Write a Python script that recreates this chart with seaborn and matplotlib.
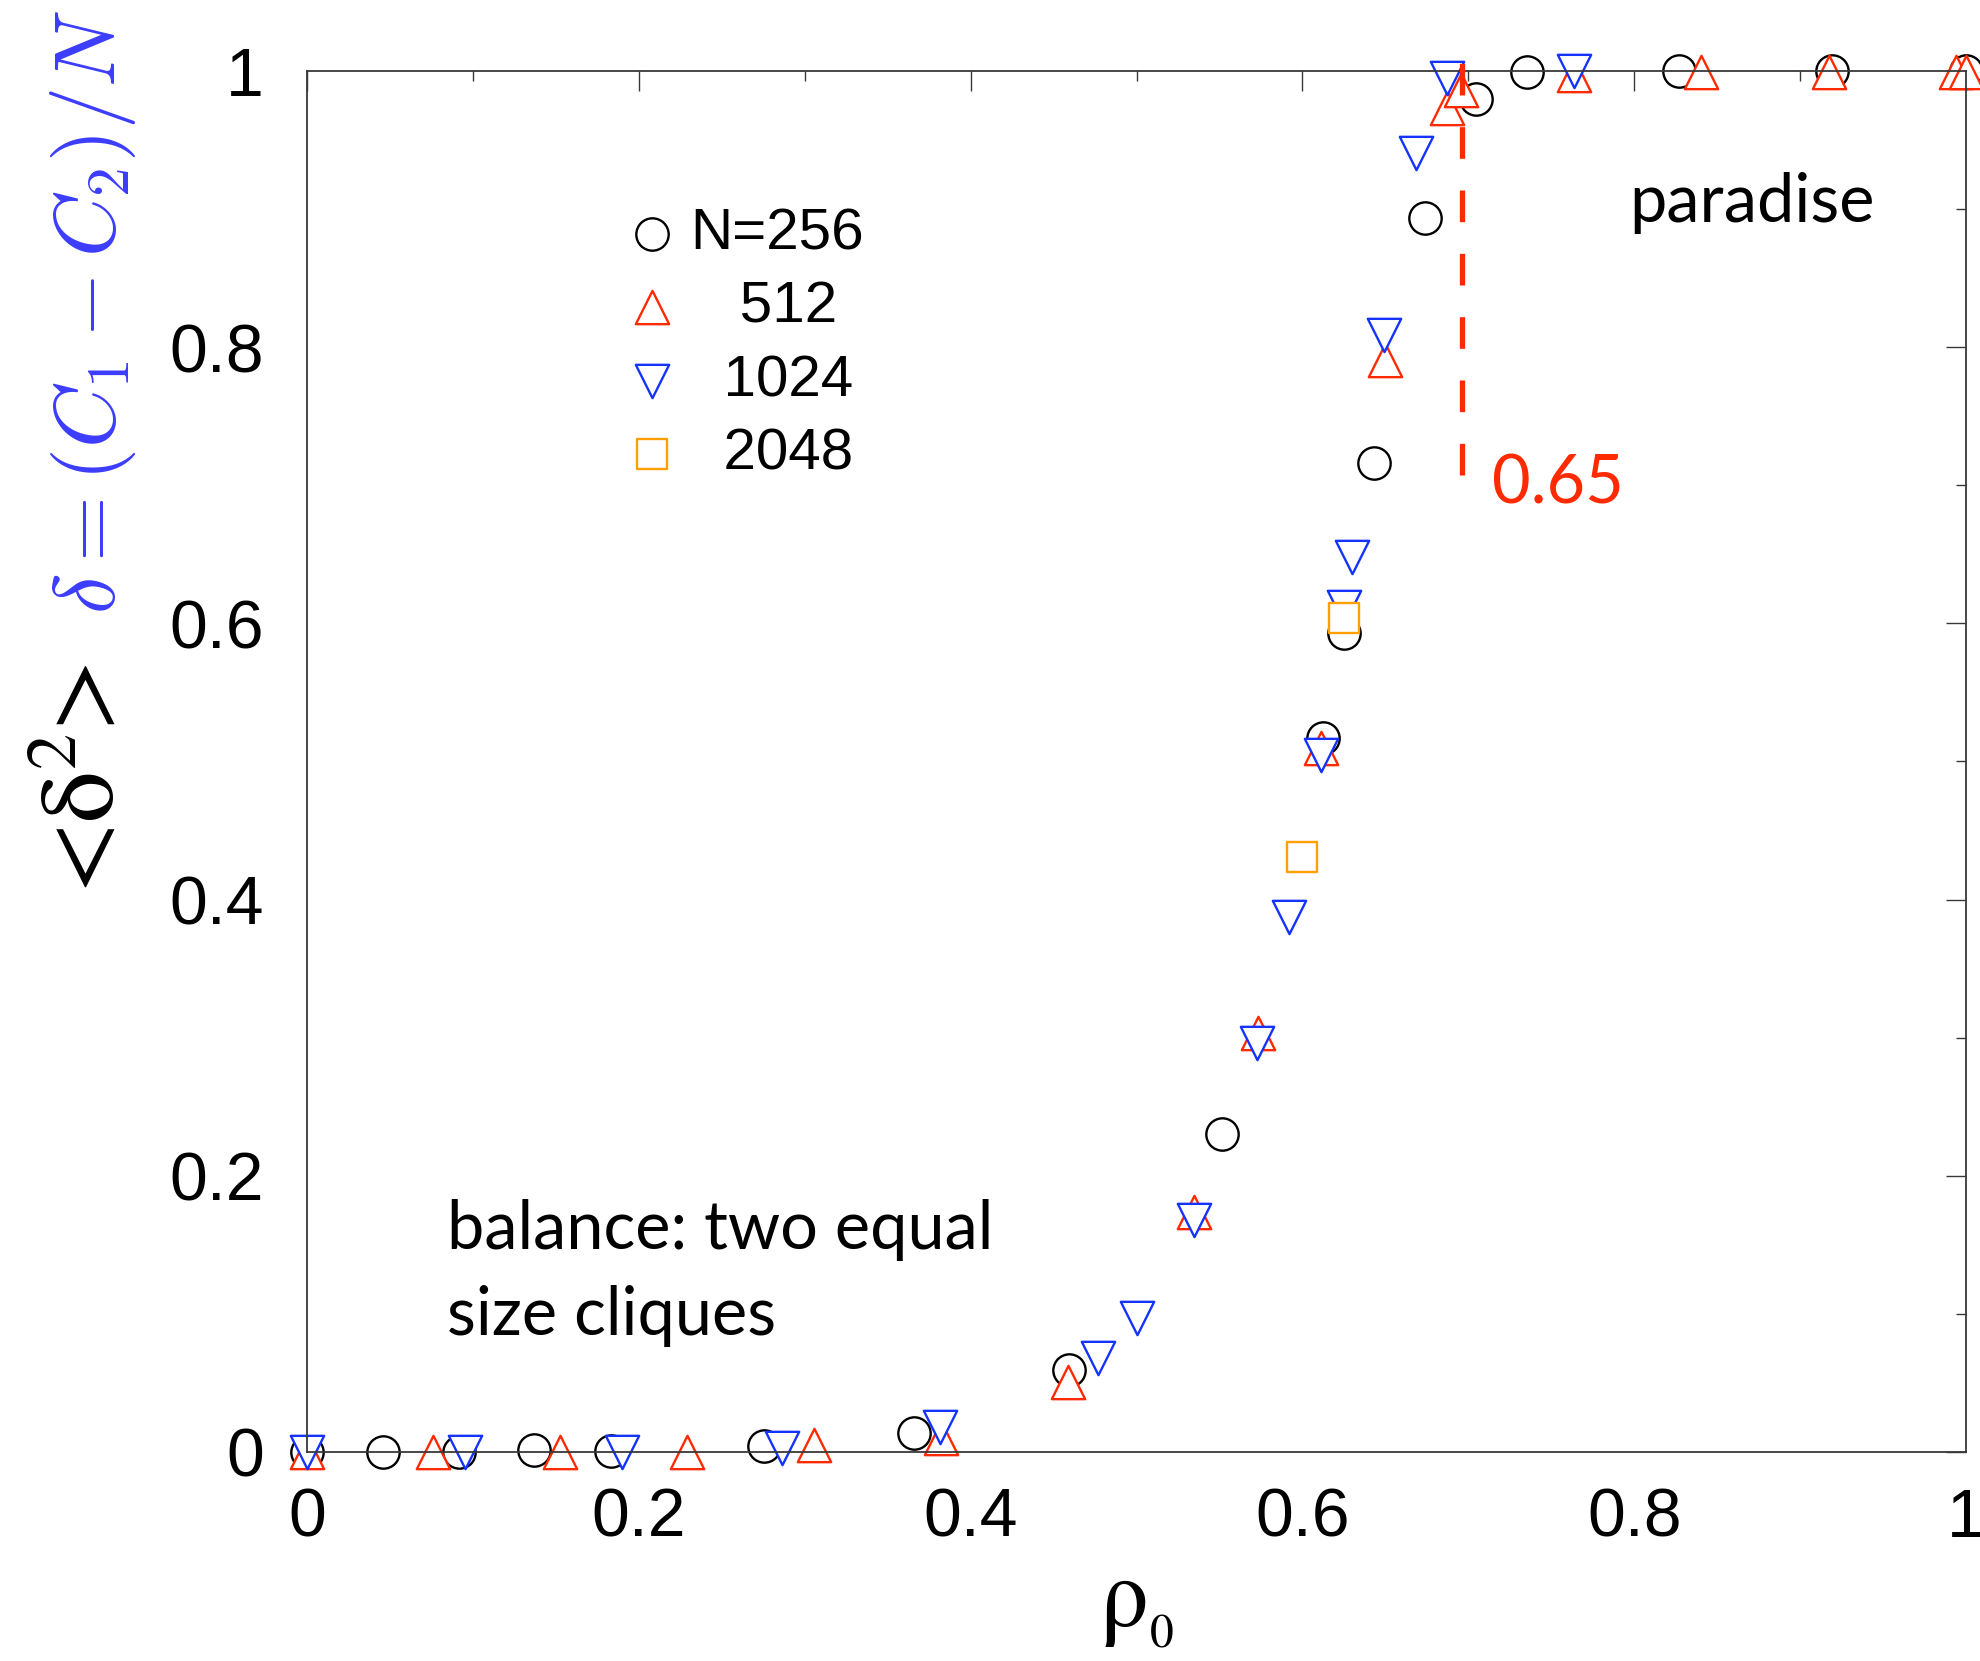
import matplotlib
matplotlib.use("Agg")
import matplotlib.pyplot as plt
import seaborn as sns
from matplotlib.ticker import FixedLocator, FixedFormatter, MultipleLocator

# ---------------- data ----------------
rho_256 = [0, 0.046, 0.0916, 0.137, 0.183, 0.2755, 0.366, 0.4596, 0.5513,
           0.6126, 0.625, 0.6432, 0.674, 0.7045, 0.7356, 0.827, 0.9194, 1.0]
d2_256 = [0, 0, 0, 0.0015, 0.001, 0.004, 0.0135, 0.0594, 0.230,
          0.5168, 0.593, 0.716, 0.8933, 0.9795, 0.999, 1.0, 1.0, 1.0]

rho_512 = [0, 0.076, 0.1525, 0.229, 0.3056, 0.382, 0.4587, 0.5347, 0.5734,
           0.6114, 0.6496, 0.6874, 0.6954, 0.764, 0.840, 0.9174, 0.9938, 1.0]
d2_512 = [0, 0, 0, 0, 0.005, 0.0099, 0.0509, 0.174, 0.3036,
          0.5096, 0.7907, 0.973, 0.9862, 0.997, 0.999, 0.999, 0.999, 0.999]

rho_1024 = [0, 0.095, 0.190, 0.2865, 0.3816, 0.4768, 0.500, 0.5347, 0.5728,
            0.592, 0.611, 0.625, 0.630, 0.6492, 0.6683, 0.687, 0.764]
d2_1024 = [0, 0, 0, 0.003, 0.018, 0.0678, 0.0968, 0.168, 0.296,
           0.3876, 0.5047, 0.612, 0.648, 0.8089, 0.9404, 0.9947, 1.0]

rho_2048 = [0.5996, 0.625]
d2_2048 = [0.4311, 0.604]

series_labels = ["N=256", "   512", "  1024", "  2048"]
x_tick_values = [0, 0.2, 0.4, 0.6, 0.8, 1.0]
x_tick_labels = ["0", "0.2", "0.4", "0.6", "0.8", "1"]
y_tick_values = [0, 0.2, 0.4, 0.6, 0.8, 1.0]
y_tick_labels = ["0", "0.2", "0.4", "0.6", "0.8", "1"]

threshold_x = [0.6964, 0.6964]
threshold_y = [0.7075, 1.0087]
threshold_label = "0.65"
text_paradise = "paradise"
text_balance = ["balance: two equal", "size cliques"]
xlabel_text = "ρ$_{_{0}}$"
ylabel_black = "<δ$^{2}$>"
ylabel_blue = r"$\delta = (C_1 - C_2)/N$"

# ---------------- style ----------------
sns.set_style("white")
plt.rcParams["font.family"] = ["Liberation Sans", "DejaVu Sans"]
plt.rcParams["text.color"] = "black"
plt.rcParams["axes.labelcolor"] = "black"

C_BLACK = "#000000"
C_RED = "#ff2a00"
C_BLUE = "#1433ff"
C_ORANGE = "#ffa000"
C_AXIS = "#383838"
ANNOT_FONT = ["Lato", "DejaVu Sans"]
SERIF = ["STIXGeneral", "Liberation Serif", "DejaVu Serif"]

fig = plt.figure(figsize=(19.8, 16.61), dpi=100)
ax = fig.add_axes([0.15505, 0.12583, 0.83788, 0.83143])

specs = [
    (rho_256, d2_256, "o", C_BLACK, 23.3 ** 2),
    (rho_512, d2_512, "^", C_RED, 24.0 ** 2),
    (rho_1024, d2_1024, "v", C_BLUE, 24.0 ** 2),
    (rho_2048, d2_2048, "s", C_ORANGE, 21.6 ** 2),
]
for i, (xs, ys, mk, col, size) in enumerate(specs):
    sns.scatterplot(x=xs, y=ys, marker=mk, s=size, facecolor="white",
                    edgecolor=col, linewidth=1.7, clip_on=False,
                    zorder=1.1 + 0.1 * i, ax=ax, legend=False)

ax.set_xlim(0, 1)
ax.set_ylim(0, 1)
ax.xaxis.set_major_locator(FixedLocator(x_tick_values))
ax.xaxis.set_major_formatter(FixedFormatter(x_tick_labels))
ax.yaxis.set_major_locator(FixedLocator(y_tick_values))
ax.yaxis.set_major_formatter(FixedFormatter(y_tick_labels))
ax.xaxis.set_minor_locator(MultipleLocator(0.1))
ax.yaxis.set_minor_locator(MultipleLocator(0.1))
ax.tick_params(which="both", direction="in", top=True, right=True,
               color=C_AXIS, width=1.0, labelcolor="black")
ax.tick_params(which="major", length=14.4, labelsize=49)
ax.tick_params(which="minor", length=7.2)
ax.tick_params(axis="x", which="major", pad=25)
ax.tick_params(axis="y", which="major", pad=31)
for sp in ax.spines.values():
    sp.set_color(C_AXIS)
    sp.set_linewidth(1.3)
    sp.set_zorder(2.6)
ax.set_xlabel("")
ax.set_ylabel("")

# legend
handles = list(ax.collections[:4])
leg = ax.legend(handles, series_labels, loc="center left",
                bbox_to_anchor=(0.194, 0.802), frameon=False, fontsize=42,
                handlelength=0.8, handletextpad=0.26, labelspacing=0.33,
                borderpad=0, borderaxespad=0, scatterpoints=1)
for t in leg.get_texts():
    t.set_color("black")

# threshold line and annotations
ax.plot(threshold_x, threshold_y, color=C_RED, lw=3.8, dashes=(6, 6),
        clip_on=False, zorder=3)
ax.text(0.7145, 0.687, threshold_label, color=C_RED, fontsize=48,
        family=ANNOT_FONT, ha="left", va="baseline")
ax.text(0.797, 0.891, text_paradise, fontsize=48, family=ANNOT_FONT,
        color="black", ha="left", va="baseline")
ax.text(0.0844, 0.147, text_balance[0], fontsize=48, family=ANNOT_FONT,
        color="black", ha="left", va="baseline")
ax.text(0.0844, 0.0847, text_balance[1], fontsize=48, family=ANNOT_FONT,
        color="black", ha="left", va="baseline")

# axis labels
fig.text(0.5743, 0.0205, xlabel_text, fontsize=70, family=SERIF,
         math_fontfamily="stix", color="black", ha="center", va="baseline")
fig.text(0.045, 0.5316, ylabel_black, fontsize=74, rotation=90,
         family=SERIF, math_fontfamily="stix", color="black",
         ha="center", va="center")
fig.text(0.047, 0.8125, ylabel_blue, fontsize=61, rotation=90,
         math_fontfamily="cm", color="#3c3cff", ha="center", va="center")

fig.savefig("out.png", dpi=100)
